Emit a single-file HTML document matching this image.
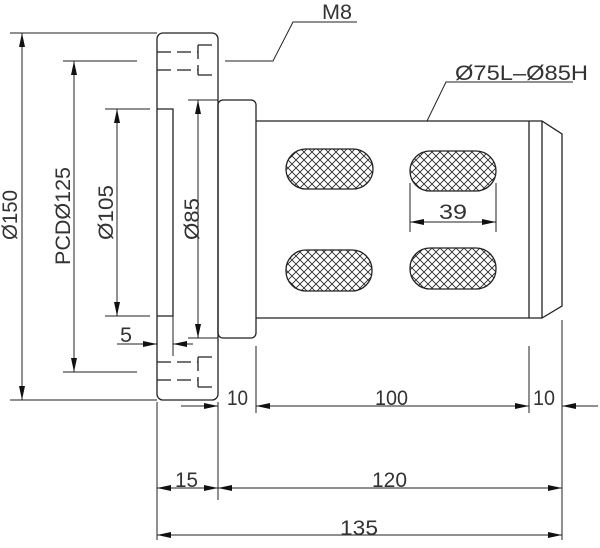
<!DOCTYPE html>
<html><head><meta charset="utf-8"><style>html,body{margin:0;padding:0;background:#fff}svg{display:block}text{font-family:"Liberation Sans",sans-serif;font-size:21px;fill:#333}</style></head><body>
<svg width="600" height="548" viewBox="0 0 600 548" xmlns="http://www.w3.org/2000/svg">
<defs>
<pattern id="h" width="8" height="8" patternUnits="userSpaceOnUse">
<path d="M0,0L8,8M8,0L0,8M-1,7L1,9M7,-1L9,1M7,9L9,7M-1,1L1,-1" stroke="#222" stroke-width="0.8"/>
</pattern>
<marker id="a" viewBox="0 0 14 6" refX="14" refY="3" markerWidth="14" markerHeight="6" markerUnits="userSpaceOnUse" orient="auto-start-reverse"><path d="M0,0L14,3L0,6z" fill="#111"/></marker>
</defs>
<g stroke="#222" stroke-width="1.3" fill="none">
<rect x="157" y="33" width="61" height="367" rx="6"/>
<path d="M157,109H173V316H157"/>
<g stroke-dasharray="14,6">
<path d="M157,52H198M157,70H198M198,45H218M198,75H218M198,45V75"/>
<path d="M157,362H198M157,380H198M198,357H218M198,387H218M198,357V387"/>
</g>
<rect x="218" y="100" width="38" height="238" rx="5"/>
<path d="M256,121H542L562,134V306L542,318H256M529,121V318M542,121V318"/>
<rect x="286" y="149" width="87" height="40" rx="20" fill="url(#h)"/>
<rect x="410" y="151" width="86" height="40" rx="20" fill="url(#h)"/>
<rect x="286" y="250" width="86" height="41" rx="20" fill="url(#h)"/>
<rect x="410" y="248" width="86" height="41" rx="20" fill="url(#h)"/>
</g>
<g stroke="#222" stroke-width="1" fill="none">
<path d="M10,33H157M10,400H157M63,61H137M63,372H137M105,109H150M105,316H150M188,100H218M188,338H218"/>
<path d="M22,33V400" marker-start="url(#a)" marker-end="url(#a)"/>
<path d="M74,61V372" marker-start="url(#a)" marker-end="url(#a)"/>
<path d="M117,109V316" marker-start="url(#a)" marker-end="url(#a)"/>
<path d="M198,100V338" marker-start="url(#a)" marker-end="url(#a)"/>
<path d="M173,316V356"/>
<path d="M117,344H157" marker-end="url(#a)"/>
<path d="M193,344H173" marker-end="url(#a)"/>
<path d="M410,183V232M496,183V232"/>
<path d="M410,222H496" marker-start="url(#a)" marker-end="url(#a)"/>
<path d="M225,61H273L293,22H357"/>
<path d="M427,121L446,82H573"/>
<path d="M157,402V540M218,402V500M256,346V413M529,346V413M562,320V540"/>
<path d="M181,406H218" marker-end="url(#a)"/>
<path d="M256,406H529" marker-start="url(#a)" marker-end="url(#a)"/>
<path d="M598,406H562" marker-end="url(#a)"/>
<path d="M157,488H218" marker-start="url(#a)" marker-end="url(#a)"/>
<path d="M218,488H562" marker-start="url(#a)" marker-end="url(#a)"/>
<path d="M157,535H562" marker-start="url(#a)" marker-end="url(#a)"/>
</g>
<text x="322" y="19" textLength="30" lengthAdjust="spacingAndGlyphs">M8</text>
<text x="455" y="80" textLength="133" lengthAdjust="spacingAndGlyphs">Ø75L–Ø85H</text>
<text x="439" y="219" textLength="28" lengthAdjust="spacingAndGlyphs">39</text>
<text x="120" y="342" textLength="12" lengthAdjust="spacingAndGlyphs">5</text>
<text x="227" y="405" textLength="21" lengthAdjust="spacingAndGlyphs">10</text>
<text x="375" y="405" textLength="33" lengthAdjust="spacingAndGlyphs">100</text>
<text x="533" y="405" textLength="22" lengthAdjust="spacingAndGlyphs">10</text>
<text x="175" y="487" textLength="23" lengthAdjust="spacingAndGlyphs">15</text>
<text x="372" y="487" textLength="35" lengthAdjust="spacingAndGlyphs">120</text>
<text x="340" y="535" textLength="38" lengthAdjust="spacingAndGlyphs">135</text>
<text transform="translate(17,240) rotate(-90)" textLength="50" lengthAdjust="spacingAndGlyphs">Ø150</text>
<text transform="translate(70,265) rotate(-90)" textLength="98" lengthAdjust="spacingAndGlyphs">PCDØ125</text>
<text transform="translate(113,240) rotate(-90)" textLength="55" lengthAdjust="spacingAndGlyphs">Ø105</text>
<text transform="translate(199,240) rotate(-90)" textLength="42" lengthAdjust="spacingAndGlyphs">Ø85</text>
</svg>
</body></html>
